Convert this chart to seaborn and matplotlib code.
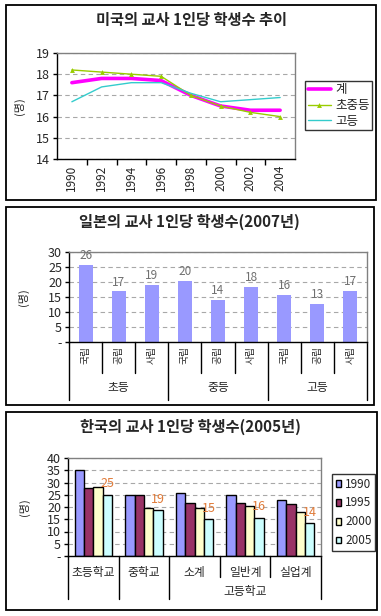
import matplotlib
matplotlib.use("Agg")
import matplotlib.pyplot as plt
import matplotlib.patches as mpatches
import matplotlib.transforms as mtransforms
import seaborn as sns
import pandas as pd

# ---------------- data ----------------
years = ["1990", "1992", "1994", "1996", "1998", "2000", "2002", "2004"]
us_total = [17.6, 17.8, 17.8, 17.7, 17.0, 16.5, 16.3, 16.3]
us_elem_mid = [18.2, 18.1, 18.0, 17.9, 17.0, 16.5, 16.2, 16.0]
us_high = [16.7, 17.4, 17.6, 17.6, 17.1, 16.7, 16.8, 16.9]
us_series = ["계", "초중등", "고등"]

jp_levels = ["초등", "중등", "고등"]
jp_types = ["국립", "공립", "사립"]
jp_values = [25.7, 16.9, 19.1, 20.3, 14.0, 18.3, 15.6, 12.7, 17.1]

kr_schools = ["초등학교", "중학교", "소계", "일반계", "실업계"]
kr_high_group = "고등학교"
kr_years = ["1990", "1995", "2000", "2005"]
kr_1990 = [35.3, 25.1, 25.8, 25.0, 23.0]
kr_1995 = [27.8, 24.7, 21.7, 21.7, 21.1]
kr_2000 = [28.3, 19.7, 19.7, 20.5, 18.1]
kr_2005 = [25.1, 18.9, 14.9, 15.7, 13.6]

# ---------------- style ----------------
sns.set_theme(style="white")
plt.rcParams['font.family'] = ['Noto Sans CJK KR', 'DejaVu Sans']
plt.rcParams['axes.unicode_minus'] = False

W, H = 381, 616
fig = plt.figure(figsize=(W / 100, H / 100), dpi=100)
fig.patch.set_facecolor("white")


def rect(l, t, r, b):
    return [l / W, 1 - b / H, (r - l) / W, (b - t) / H]


def panel(l, t, r, b):
    fig.patches.append(mpatches.Rectangle((l / W, 1 - b / H), (r - l) / W, (b - t) / H,
                                          transform=fig.transFigure, fill=False,
                                          edgecolor="black", linewidth=1.3))


def style_axes(ax):
    for s in ["top", "right"]:
        ax.spines[s].set_color("#808080")
        ax.spines[s].set_linewidth(1)
    for s in ["left", "bottom"]:
        ax.spines[s].set_color("black")
        ax.spines[s].set_linewidth(1)
    ax.yaxis.grid(True, linestyle=(0, (4, 3)), color="#A8A8A8", linewidth=0.8)
    ax.set_axisbelow(True)
    ax.tick_params(axis="y", direction="out", length=3, width=1, color="black",
                   labelsize=9, pad=2, left=True)


panel(6, 5, 376, 200)
panel(6, 207, 374, 405)
panel(6, 412, 377, 610)

fig.text(191 / W, 1 - 20 / H, "미국의 교사 1인당 학생수 추이", ha="center", va="center",
         fontsize=11, fontweight="bold")
fig.text(189 / W, 1 - 222 / H, "일본의 교사 1인당 학생수(2007년)", ha="center", va="center",
         fontsize=11, fontweight="bold")
fig.text(190 / W, 1 - 427 / H, "한국의 교사 1인당 학생수(2005년)", ha="center", va="center",
         fontsize=11, fontweight="bold")

# ---------------- panel 1: line chart ----------------
ax1 = fig.add_axes(rect(57, 53, 295, 159))
sns.lineplot(x=years, y=us_total, ax=ax1, color="#FF00FF", linewidth=2.6, label=us_series[0])
sns.lineplot(x=years, y=us_elem_mid, ax=ax1, color="#99CC00", linewidth=1, marker="^",
             markersize=3.5, markeredgewidth=0, label=us_series[1])
sns.lineplot(x=years, y=us_high, ax=ax1, color="#33CCCC", linewidth=1, label=us_series[2])
ax1.set_xlim(-0.5, len(years) - 0.5)
ax1.set_ylim(14, 19)
ax1.set_yticks(range(14, 20))
style_axes(ax1)
ax1.set_xlabel("")
ax1.set_ylabel("(명)", fontsize=8, labelpad=8)
ax1.tick_params(axis="x", which="major", length=0, labelsize=8.5, labelrotation=90, pad=4)
ax1.set_xticks([i + 0.5 for i in range(len(years) - 1)], minor=True)
ax1.tick_params(axis="x", which="minor", length=4, width=1, direction="out", color="black",
                bottom=True)
leg1 = ax1.legend(loc="upper left", bbox_to_anchor=(305 / W, 1 - 81 / H),
                  bbox_transform=fig.transFigure, frameon=True, fancybox=False,
                  edgecolor="black", fontsize=9, handlelength=1.9, borderpad=0.2,
                  labelspacing=0.2, handletextpad=0.3, borderaxespad=0)
leg1.get_frame().set_linewidth(1)

# ---------------- panel 2: Japan ----------------
ax2 = fig.add_axes(rect(69, 252, 367, 342))
jp_keys = [f"{lv}-{t}" for lv in jp_levels for t in jp_types]
df2 = pd.DataFrame({"key": jp_keys, "value": jp_values})
sns.barplot(data=df2, x="key", y="value", ax=ax2, color="#9999FF", width=0.42,
            saturation=1, edgecolor="none")
ax2.bar_label(ax2.containers[0], fmt="%.0f", padding=2, fontsize=8.5, color="#707070")
ax2.set_ylim(0, 30)
ax2.set_yticks(range(0, 31, 5))
ax2.set_yticklabels(["-"] + [str(v) for v in range(5, 31, 5)])
style_axes(ax2)
ax2.set_xlabel("")
ax2.set_ylabel("(명)", fontsize=8, labelpad=14)
ax2.set_xticks(range(len(jp_keys)))
ax2.set_xticklabels([t for _ in jp_levels for t in jp_types], rotation=90, fontsize=7)
ax2.tick_params(axis="x", length=0, pad=3)
ax2.set_xlim(-0.5, len(jp_keys) - 0.5)
tr2 = mtransforms.blended_transform_factory(ax2.transData, ax2.transAxes)
for i in range(len(jp_keys) + 1):
    x = i - 0.5
    bottom = -0.64 if i % 3 == 0 else -0.345
    ax2.plot([x, x], [0, bottom], transform=tr2, clip_on=False, color="black", lw=1)
for j, lv in enumerate(jp_levels):
    ax2.text(j * 3 + 1, -0.51, lv, transform=tr2, ha="center", va="center", fontsize=8.5)

# ---------------- panel 3: Korea ----------------
ax3 = fig.add_axes(rect(68, 458, 321, 556))
rows = []
for yr, vals in zip(kr_years, [kr_1990, kr_1995, kr_2000, kr_2005]):
    for s, v in zip(kr_schools, vals):
        rows.append({"school": s, "year": yr, "value": v})
df3 = pd.DataFrame(rows)
sns.barplot(data=df3, x="school", y="value", hue="year", ax=ax3,
            palette=["#9999FF", "#993366", "#FFFFCC", "#CCFFFF"], edgecolor="black",
            linewidth=1, width=0.74, saturation=1, order=kr_schools, hue_order=kr_years)
ax3.bar_label(ax3.containers[3], fmt="%.0f", padding=3, fontsize=9, color="#E07B39")
ax3.set_ylim(0, 40)
ax3.set_yticks(range(0, 41, 5))
ax3.set_yticklabels(["-"] + [str(v) for v in range(5, 41, 5)])
style_axes(ax3)
ax3.set_xlabel("")
ax3.set_ylabel("(명)", fontsize=8, labelpad=12)
ax3.set_xlim(-0.5, len(kr_schools) - 0.5)
ax3.tick_params(axis="x", length=0, labelsize=8.5, pad=7)
tr3 = mtransforms.blended_transform_factory(ax3.transData, ax3.transAxes)
for i in range(len(kr_schools) + 1):
    x = i - 0.5
    bottom = -0.21 if i in (3, 4) else -0.44
    ax3.plot([x, x], [0, bottom], transform=tr3, clip_on=False, color="black", lw=1)
ax3.text(3, -0.367, kr_high_group, transform=tr3, ha="center", va="center", fontsize=8.5)
leg3 = ax3.legend(loc="upper left", bbox_to_anchor=(332 / W, 1 - 474 / H),
                  bbox_transform=fig.transFigure, frameon=True, fancybox=False,
                  edgecolor="black", fontsize=8.5, handlelength=0.5, handleheight=0.5,
                  borderpad=0.3, labelspacing=0.5, handletextpad=0.3, borderaxespad=0,
                  title=None)
leg3.get_frame().set_linewidth(1)

fig.savefig("out.png", dpi=100, facecolor="white")
